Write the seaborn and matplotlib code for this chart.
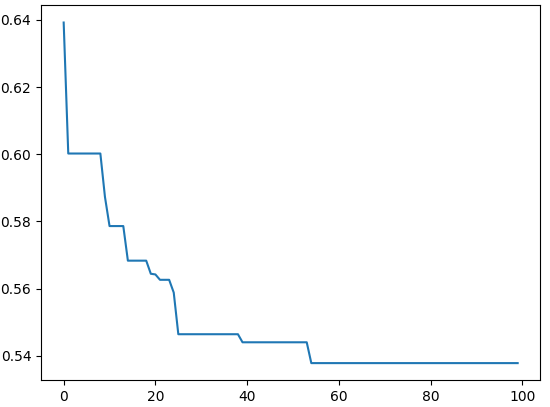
import matplotlib
matplotlib.use("Agg")
import matplotlib.pyplot as plt
import seaborn as sns
import pandas as pd

steps = list(range(100))
values = (
    [0.6392]
    + [0.6002] * 8
    + [0.5873]
    + [0.5786] * 4
    + [0.5683] * 5
    + [0.5644, 0.5642]
    + [0.5626] * 3
    + [0.5588]
    + [0.5464] * 14
    + [0.5440] * 15
    + [0.5378] * 46
)

df = pd.DataFrame({"step": steps, "value": values})

fig, ax = plt.subplots(figsize=(5.5, 4.07), dpi=100)
fig.subplots_adjust(left=0.0745, right=0.9825, top=0.9865, bottom=0.066)
sns.lineplot(data=df, x="step", y="value", ax=ax, color="#1f77b4", linewidth=1.5)
ax.set_xlabel("")
ax.set_ylabel("")
ax.set_xticks([0, 20, 40, 60, 80, 100])
ax.set_yticks([0.54, 0.56, 0.58, 0.60, 0.62, 0.64])
fig.savefig("out.png", dpi=100)
